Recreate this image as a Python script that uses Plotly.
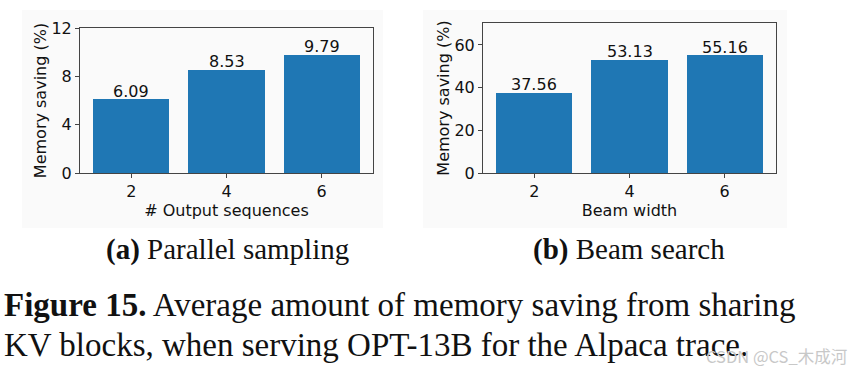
import plotly.graph_objects as go

# Data
categories_a = ["2", "4", "6"]
values_a = [6.09, 8.53, 9.79]
categories_b = ["2", "4", "6"]
values_b = [37.56, 53.13, 55.16]
yticks_a = [0, 4, 8, 12]
yticks_b = [0, 20, 40, 60]

W, H = 852, 371
BLUE = "#1f77b4"
SANS = "DejaVu Sans"
SERIF = "Liberation Serif"
FS = 16

def px_x(x):
    return x / W

def px_y(y):
    return 1 - y / H

fig = go.Figure()
pos = [0, 1, 2]
for vals, xa, ya in [(values_a, "x", "y"), (values_b, "x2", "y2")]:
    fig.add_trace(go.Bar(x=pos, y=vals, width=0.8, marker=dict(color=BLUE, line=dict(width=0)),
                         xaxis=xa, yaxis=ya, showlegend=False, hoverinfo="x+y"))
    for p, v in zip(pos, vals):
        fig.add_annotation(x=p, y=v, xref=xa, yref=ya, text=f"{v:.2f}", showarrow=False,
                           xanchor="center", yanchor="middle", yshift=8,
                           font=dict(family=SANS, size=FS, color="#111"))

axis_common = dict(showline=True, linecolor="#444", linewidth=1, mirror=True,
                   ticks="outside", ticklen=4, tickcolor="#444", showgrid=False, zeroline=False,
                   automargin=False,
                   tickfont=dict(family=SANS, size=FS, color="#111"))
title_font = dict(family=SANS, size=FS, color="#111")

fig.update_layout(
    width=W, height=H, margin=dict(l=0, r=0, t=0, b=0, pad=0, autoexpand=False),
    paper_bgcolor="white", plot_bgcolor="white",
    bargap=0,
    xaxis=dict(domain=[px_x(80), px_x(373)], anchor="y", range=[-0.54, 2.54],
               tickvals=pos, ticktext=categories_a,
               title=dict(text="# Output sequences", font=title_font, standoff=0),
               **axis_common),
    yaxis=dict(domain=[px_y(173), px_y(28)], anchor="x", range=[0, 12], tickvals=yticks_a,
               title=dict(text="Memory saving (%)", font=title_font, standoff=0),
               **axis_common),
    xaxis2=dict(domain=[px_x(483), px_x(776)], anchor="y2", range=[-0.54, 2.54],
                tickvals=pos, ticktext=categories_b,
                title=dict(text="Beam width", font=title_font, standoff=0),
                **axis_common),
    yaxis2=dict(domain=[px_y(173), px_y(23)], anchor="x2", range=[0, 70.3], tickvals=yticks_b,
                title=dict(text="Memory saving (%)", font=title_font, standoff=0),
                **axis_common),
)

# faint panel backgrounds
for x0, x1 in [(22, 383), (423, 787)]:
    fig.add_shape(type="rect", xref="paper", yref="paper", x0=px_x(x0), x1=px_x(x1),
                  y0=px_y(228), y1=px_y(10), fillcolor="#fafafa", line=dict(width=0), layer="below")

fig.add_annotation(x=px_x(227), y=px_y(249), xref="paper", yref="paper", showarrow=False,
                   xanchor="center", yanchor="middle",
                   text="<b>(a)</b> Parallel sampling", font=dict(family=SERIF, size=29, color="#111"))
fig.add_annotation(x=px_x(629), y=px_y(249), xref="paper", yref="paper", showarrow=False,
                   xanchor="center", yanchor="middle",
                   text="<b>(b)</b> Beam search", font=dict(family=SERIF, size=29, color="#111"))
fig.add_annotation(x=px_x(2), y=px_y(305), xref="paper", yref="paper", showarrow=False,
                   xanchor="left", yanchor="middle",
                   text="<b>Figure 15.</b> Average amount of memory saving from sharing",
                   font=dict(family=SERIF, size=33, color="#111"))
fig.add_annotation(x=px_x(2), y=px_y(345), xref="paper", yref="paper", showarrow=False,
                   xanchor="left", yanchor="middle",
                   text="KV blocks, when serving OPT-13B for the Alpaca trace.",
                   font=dict(family=SERIF, size=33, color="#111"))
fig.add_annotation(x=px_x(849), y=px_y(356), xref="paper", yref="paper", showarrow=False,
                   xanchor="right", yanchor="middle",
                   text="CSDN @CS_木成河",
                   font=dict(family="Noto Sans CJK SC", size=16.5, color="#c8c8c8"))

fig.write_html("out.html", config={"displayModeBar": False},
               post_script="document.body.style.margin='0';")
